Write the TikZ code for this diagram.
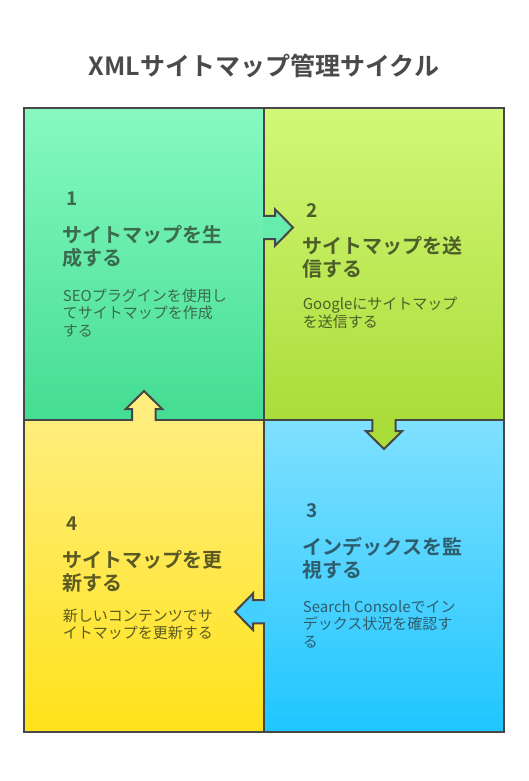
\documentclass[tikz,border=0pt]{standalone}
\usepackage{fontspec}
\setmainfont{Noto Sans CJK JP}[BoldFont={Noto Sans CJK JP Bold}]
\usetikzlibrary{positioning}

\definecolor{edge}{HTML}{474747}
\definecolor{ink}{HTML}{4A4A4A}
\definecolor{greentop}{HTML}{86F9C1}
\definecolor{greenbot}{HTML}{44DD92}
\definecolor{greenmid}{HTML}{66EDAD}
\definecolor{limetop}{HTML}{D3F777}
\definecolor{limebot}{HTML}{AADD3A}
\definecolor{bluetop}{HTML}{80E0FF}
\definecolor{bluebot}{HTML}{1FC6FF}
\definecolor{bluemid}{HTML}{43D0FF}
\definecolor{yellowtop}{HTML}{FFEE7D}
\definecolor{yellowbot}{HTML}{FFE21A}
\definecolor{greenink}{HTML}{3A6B4E}
\definecolor{limeink}{HTML}{4D5E28}
\definecolor{blueink}{HTML}{2E5E6E}
\definecolor{yellowink}{HTML}{5C5A22}

\begin{document}
\begin{tikzpicture}[x=1pt, y=-1pt, line join=miter]
    \tikzset{
        title/.style={font=\bfseries\fontsize{25}{28}\selectfont, text=ink, inner sep=0pt, anchor=base},
        num/.style={font=\bfseries\fontsize{19}{19}\selectfont, inner sep=0pt, anchor=base west},
        head/.style={font=\bfseries\fontsize{20}{23}\selectfont, align=left, inner sep=0pt, anchor=north west},
        desc/.style={font=\fontsize{15}{17.7}\selectfont, align=left, inner sep=0pt, anchor=north west},
        frame/.style={draw=edge, line width=2pt},
    }
    \useasboundingbox (0,0) rectangle (528,781);

    % TITLE
    \node[title] (ttl) at (264,76) {XMLサイトマップ管理サイクル};

    % QUADRANTS
    \shade[top color=greentop, bottom color=greenbot] (24,108) rectangle (264,420);
    \shade[top color=limetop, bottom color=limebot] (264,108) rectangle (504,420);
    \shade[top color=bluetop, bottom color=bluebot] (264,420) rectangle (504,732);
    \shade[top color=yellowtop, bottom color=yellowbot] (24,420) rectangle (264,732);
    \draw[frame] (24,108) rectangle (504,732);
    \draw[frame] (264,108) -- (264,732);
    \draw[frame] (24,420) -- (504,420);

    % ARROWS
    \fill[greenmid] (263,215.8) -- (275,215.8) -- (275,209.2) -- (293,227.5) -- (275,245.8) -- (275,239.2) -- (263,239.2) -- cycle;
    \draw[frame] (263,215.8) -- (275,215.8) -- (275,209.2) -- (293,227.5) -- (275,245.8) -- (275,239.2) -- (263,239.2);
    \fill[limebot] (372.3,419) -- (372.3,431) -- (365.7,431) -- (384,449) -- (402.3,431) -- (395.7,431) -- (395.7,419) -- cycle;
    \draw[frame] (372.3,419) -- (372.3,431) -- (365.7,431) -- (384,449) -- (402.3,431) -- (395.7,431) -- (395.7,419);
    \fill[bluemid] (265,600) -- (253,600) -- (253,593.4) -- (235,611.7) -- (253,630) -- (253,623.4) -- (265,623.4) -- cycle;
    \draw[frame] (265,600) -- (253,600) -- (253,593.4) -- (235,611.7) -- (253,630) -- (253,623.4) -- (265,623.4);
    \fill[yellowtop] (132,421) -- (132,409) -- (125.7,409) -- (144,391) -- (162.3,409) -- (155.7,409) -- (155.7,421) -- cycle;
    \draw[frame] (132,421) -- (132,409) -- (125.7,409) -- (144,391) -- (162.3,409) -- (155.7,409) -- (155.7,421);

    % STEP 1
    \node[num, text=greenink] (n1) at (66,205) {1};
    \node[head, text=greenink] (h1) at (62.7,225) {サイトマップを生\\成する};
    \node[desc, text=greenink] (d1) at (62.7,288.3) {SEOプラグインを使用し\\てサイトマップを作成\\する};

    % STEP 2
    \node[num, text=limeink] (n2) at (306,217.3) {2};
    \node[head, text=limeink] (h2) at (302.7,236.7) {サイトマップを送\\信する};
    \node[desc, text=limeink] (d2) at (302.7,297) {Googleにサイトマップ\\を送信する};

    % STEP 3
    \node[num, text=blueink] (n3) at (306,517.3) {3};
    \node[head, text=blueink] (h3) at (302.7,537) {インデックスを監\\視する};
    \node[desc, text=blueink] (d3) at (302.7,600) {Search Consoleでイン\\デックス状況を確認す\\る};

    % STEP 4
    \node[num, text=yellowink] (n4) at (66,530) {4};
    \node[head, text=yellowink] (h4) at (62.7,550) {サイトマップを更\\新する};
    \node[desc, text=yellowink] (d4) at (62.7,608.3) {新しいコンテンツでサ\\イトマップを更新する};
\end{tikzpicture}
\end{document}
